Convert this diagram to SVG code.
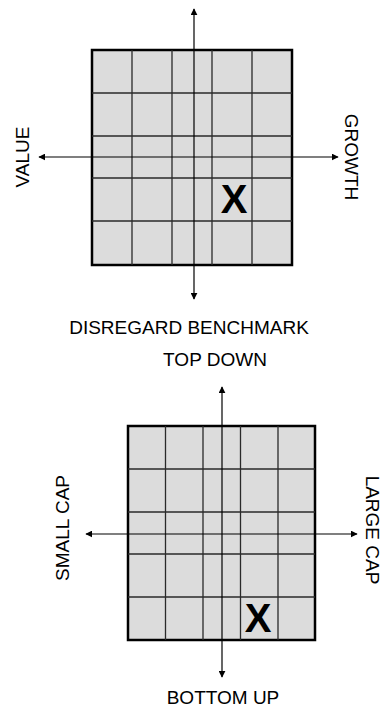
<svg xmlns="http://www.w3.org/2000/svg" width="384" height="707" viewBox="0 0 384 707">
<defs>
<marker id="arr" viewBox="0 0 10 10" refX="9" refY="5" markerWidth="7" markerHeight="7" markerUnits="userSpaceOnUse" orient="auto">
<path d="M0,0 L10,5 L0,10 z" fill="#000"/>
</marker>
</defs>
<style>
.box{fill:#dcdcdc;stroke:#000;stroke-width:2.5}
.grid{stroke:#2a2a2a;stroke-width:1.3;fill:none}
.axis{stroke:#000;stroke-width:1.2;fill:none}
.lbl{font-family:"Liberation Sans",Arial,sans-serif;font-size:19px;fill:#000}
.x{font-family:"Liberation Sans",Arial,sans-serif;font-size:40px;font-weight:bold;fill:#000;text-anchor:middle}
</style>
<rect width="384" height="707" fill="#fff"/>

<g id="grid1">
<rect class="box" x="92" y="50" width="200" height="215"/>
<path class="grid" d="M132,50V265M172,50V265M212,50V265M252,50V265M92,93H292M92,136H292M92,178H292M92,221H292"/>
<text class="x" x="234" y="213">X</text>
</g>

<g id="grid2">
<rect class="box" x="128" y="426" width="187" height="214"/>
<path class="grid" d="M165.5,426V640M203,426V640M240.5,426V640M278,426V640M128,469H315M128,512H315M128,554H315M128,597H315"/>
<text class="x" x="258" y="632">X</text>
</g>

<g id="connectors">
<line class="axis" x1="194" y1="157" x2="194" y2="9" marker-end="url(#arr)"/>
<line class="axis" x1="194" y1="157" x2="194" y2="299" marker-end="url(#arr)"/>
<line class="axis" x1="194" y1="157" x2="39" y2="157" marker-end="url(#arr)"/>
<line class="axis" x1="194" y1="157" x2="338" y2="157" marker-end="url(#arr)"/>
<line class="axis" x1="222" y1="534" x2="222" y2="387" marker-end="url(#arr)"/>
<line class="axis" x1="222" y1="534" x2="222" y2="677" marker-end="url(#arr)"/>
<line class="axis" x1="222" y1="534" x2="86" y2="534" marker-end="url(#arr)"/>
<line class="axis" x1="222" y1="534" x2="357" y2="534" marker-end="url(#arr)"/>
</g>

<g id="labels">
<text class="lbl" text-anchor="middle" transform="translate(29,157) rotate(-90)">VALUE</text>
<text class="lbl" text-anchor="middle" transform="translate(345,157) rotate(90)">GROWTH</text>
<text class="lbl" x="189" y="334" text-anchor="middle">DISREGARD BENCHMARK</text>
<text class="lbl" x="215" y="366" text-anchor="middle">TOP DOWN</text>
<text class="lbl" text-anchor="middle" transform="translate(69,528) rotate(-90)">SMALL CAP</text>
<text class="lbl" text-anchor="middle" transform="translate(366,530) rotate(90)">LARGE CAP</text>
<text class="lbl" x="223" y="704" text-anchor="middle">BOTTOM UP</text>
</g>
</svg>
